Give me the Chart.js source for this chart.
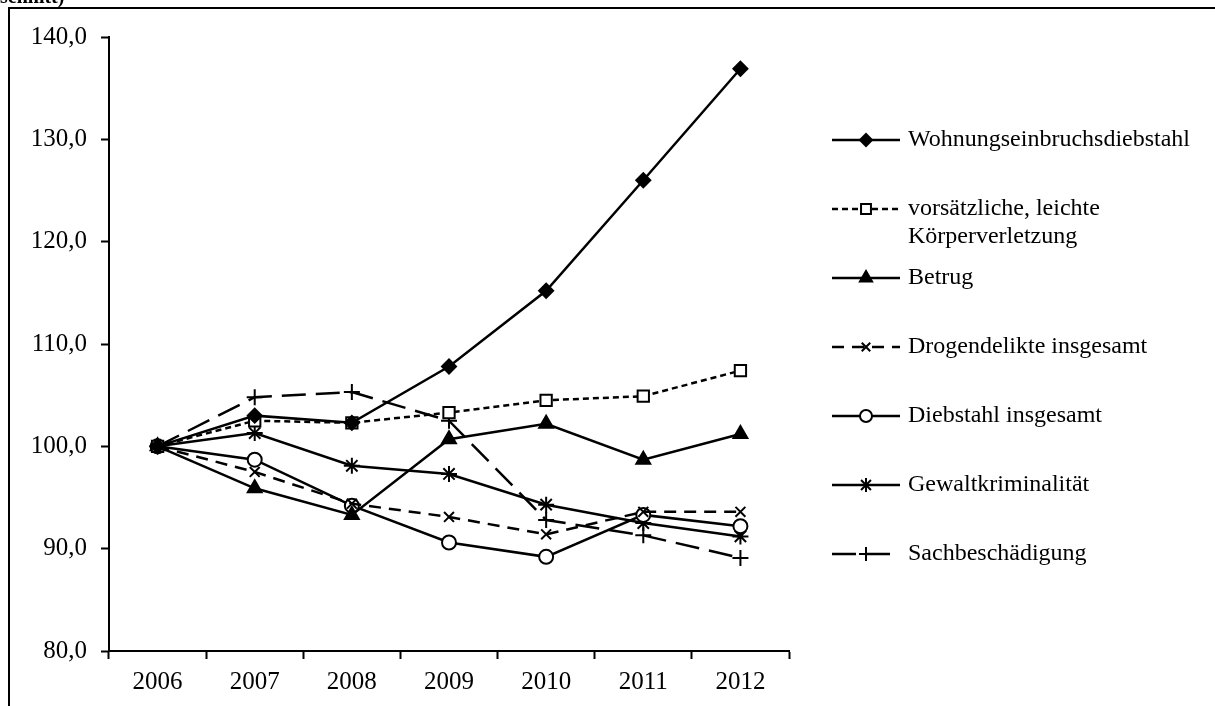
<!DOCTYPE html>
<html>
<head>
<meta charset="utf-8">
<script src="https://cdn.jsdelivr.net/npm/chart.js@4/dist/chart.umd.min.js"></script>
<style>
  body { margin: 0; background: #fff; }
  #wrap { position: relative; width: 1215px; height: 706px; overflow: hidden; }
</style>
</head>
<body>
<div id="wrap"><canvas id="myChart" width="1215" height="706"></canvas></div>
<script>
const years = ['2006', '2007', '2008', '2009', '2010', '2011', '2012'];
const yTicks = [80, 90, 100, 110, 120, 130, 140];

const wohnung = [100, 103.0, 102.3, 107.8, 115.2, 126.0, 136.9];
const koerper = [100, 102.5, 102.3, 103.3, 104.5, 104.9, 107.4];
const betrug = [100, 95.9, 93.3, 100.7, 102.2, 98.7, 101.2];
const drogen = [100, 97.5, 94.4, 93.1, 91.4, 93.6, 93.6];
const diebstahl = [100, 98.7, 94.2, 90.6, 89.2, 93.3, 92.2];
const gewalt = [100, 101.3, 98.1, 97.3, 94.3, 92.5, 91.2];
const sach = [100, 104.8, 105.3, 102.5, 92.8, 91.3, 89.1];

const serif = '"Liberation Serif", "DejaVu Serif", serif';

function series(label, values, style, fill, radius, dash, legendY, lines) {
    return {
        label: label,
        data: values,
        borderColor: '#000',
        backgroundColor: fill,
        borderWidth: 2.5,
        borderDash: dash,
        pointStyle: style,
        pointRadius: radius,
        pointHoverRadius: radius,
        pointBorderColor: '#000',
        pointBackgroundColor: fill,
        pointBorderWidth: 2,
        tension: 0,
        legendY: legendY,
        legendLines: lines
    };
}

const datasets = [
    series('Wohnungseinbruchsdiebstahl', wohnung, 'rectRot', '#000', 7, [], 140, ['Wohnungseinbruchsdiebstahl']),
    series('vorsätzliche, leichte Körperverletzung', koerper, 'rect', '#fff', 8, [6, 4], 209, ['vorsätzliche, leichte', 'Körperverletzung']),
    series('Betrug', betrug, 'triangle', '#000', 8, [], 278, ['Betrug']),
    series('Drogendelikte insgesamt', drogen, 'crossRot', '#fff', 7, [12, 8], 347, ['Drogendelikte insgesamt']),
    series('Diebstahl insgesamt', diebstahl, 'circle', '#fff', 7, [], 416, ['Diebstahl insgesamt']),
    series('Gewaltkriminalität', gewalt, 'star', '#fff', 8, [], 485, ['Gewaltkriminalität']),
    series('Sachbeschädigung', sach, 'cross', '#fff', 8, [24, 10], 554, ['Sachbeschädigung'])
];

// frame, cut-off heading and the legend on the right
const decor = {
    id: 'decor',
    afterDraw(chart) {
        const ctx = chart.ctx;
        ctx.save();
        ctx.strokeStyle = '#000';
        ctx.lineWidth = 2;
        ctx.beginPath();
        ctx.moveTo(9, 720);
        ctx.lineTo(9, 8);
        ctx.lineTo(1220, 8);
        ctx.stroke();

        ctx.fillStyle = '#000';
        ctx.font = 'bold 20px ' + serif;
        ctx.textBaseline = 'alphabetic';
        ctx.fillText('schnitt)', 0, 3);

        ctx.font = '24px ' + serif;
        ctx.textBaseline = 'middle';
        chart.data.datasets.forEach(function(ds) {
            const y = ds.legendY;
            ctx.beginPath();
            ctx.lineWidth = 2.5;
            ctx.setLineDash(ds.borderDash);
            ctx.moveTo(832, y);
            ctx.lineTo(900, y);
            ctx.stroke();
            ctx.setLineDash([]);
            ctx.lineWidth = 2;
            ctx.fillStyle = ds.pointBackgroundColor;
            Chart.helpers.drawPoint(ctx, {
                pointStyle: ds.pointStyle,
                radius: ds.pointRadius - 1,
                borderWidth: 2,
                rotation: 0
            }, 866, y);
            ctx.fillStyle = '#000';
            ds.legendLines.forEach(function(line, i) {
                ctx.fillText(line, 908, y + i * 28);
            });
        });
        ctx.restore();
    }
};

const config = {
    type: 'line',
    data: { labels: years, datasets: datasets },
    options: {
        responsive: false,
        animation: false,
        layout: { padding: { left: 0, top: 37, right: 426, bottom: 0 } },
        plugins: {
            legend: { display: false },
            tooltip: { enabled: false }
        },
        scales: {
            x: {
                offset: true,
                grid: {
                    offset: true,
                    drawOnChartArea: false,
                    drawTicks: true,
                    tickLength: 8,
                    tickWidth: 2,
                    tickColor: '#000'
                },
                border: { color: '#000', width: 2 },
                ticks: {
                    color: '#000',
                    font: { family: serif, size: 25 },
                    padding: 8,
                    maxRotation: 0
                },
                afterFit(scale) { scale.height = 55; }
            },
            y: {
                min: yTicks[0],
                max: yTicks[yTicks.length - 1],
                afterBuildTicks(scale) {
                    scale.ticks = yTicks.map(function(v) { return { value: v }; });
                },
                grid: {
                    drawOnChartArea: false,
                    drawTicks: true,
                    tickLength: 8,
                    tickWidth: 2,
                    tickColor: '#000'
                },
                border: { color: '#000', width: 2 },
                ticks: {
                    color: '#000',
                    font: { family: serif, size: 25 },
                    padding: 14,
                    callback: function(v) { return v.toFixed(1).replace('.', ','); }
                },
                afterFit(scale) { scale.width = 109; }
            }
        }
    },
    plugins: [decor]
};

const myChart = new Chart(
    document.getElementById('myChart'),
    config
);
</script>
</body>
</html>
